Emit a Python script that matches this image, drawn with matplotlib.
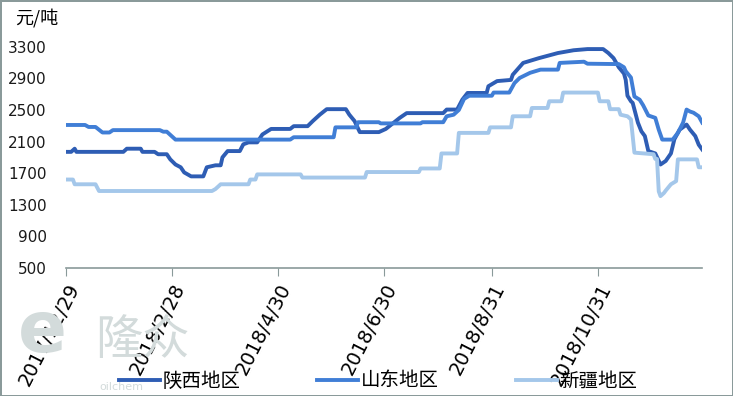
import pandas as pd
import matplotlib.pyplot as plt

plt.rcParams['font.family'] = ['DejaVu Sans', 'Noto Sans CJK SC']

# x values: days after 2017/12/29, y values: 元/吨
start = pd.Timestamp('2017-12-29')

sx_day = [0, 3, 5, 6, 33, 35, 43, 44, 51, 53, 58, 60, 63, 66, 68, 72, 79, 81, 86, 89,
          90, 93, 100, 102, 105, 110, 113, 118, 129, 131, 139, 142, 146, 150, 161, 163,
          166, 169, 180, 184, 188, 192, 196, 217, 219, 225, 228, 231, 242, 243, 248, 256,
          257, 263, 272, 283, 292, 300, 309, 312, 315, 318, 321, 322, 323, 325, 326, 329,
          331, 333, 335, 339, 342, 345, 348, 350, 353, 357, 359, 362, 364, 366]
sx_val = [1970, 1970, 2010, 1970, 1970, 2010, 2010, 1970, 1970, 1940, 1940, 1875, 1810, 1775,
          1710, 1660, 1660, 1775, 1800, 1800, 1900, 1980, 1980, 2065, 2090, 2090, 2190, 2260,
          2260, 2295, 2295, 2360, 2440, 2510, 2510, 2440, 2360, 2220, 2220, 2260, 2330, 2400,
          2460, 2460, 2505, 2505, 2630, 2715, 2715, 2800, 2865, 2880, 2945, 3095, 3155, 3220,
          3255, 3270, 3270, 3220, 3155, 3040, 2960, 2880, 2680, 2610, 2590, 2340, 2230, 2170,
          1980, 1950, 1810, 1855, 1950, 2130, 2250, 2315, 2250, 2170, 2060, 2000]

sd_day = [0, 11, 13, 17, 21, 25, 27, 54, 56, 58, 63, 129, 131, 154, 155, 167, 168, 180,
          181, 204, 205, 217, 219, 223, 226, 229, 232, 245, 246, 255, 258, 261, 267, 273,
          283, 284, 298, 300, 318, 321, 322, 325, 327, 330, 332, 335, 339, 341, 343, 349,
          352, 355, 357, 359, 361, 364, 366]
sd_val = [2310, 2310, 2285, 2285, 2215, 2215, 2245, 2245, 2225, 2225, 2125, 2125, 2155, 2155,
          2280, 2280, 2345, 2345, 2330, 2330, 2345, 2345, 2420, 2440, 2500, 2640, 2680, 2680,
          2720, 2720, 2840, 2905, 2970, 3010, 3010, 3095, 3110, 3085, 3080, 3040, 2990, 2910,
          2670, 2630, 2560, 2430, 2400, 2250, 2125, 2125, 2210, 2340, 2505, 2480, 2465, 2420,
          2340]

xj_day = [0, 4, 5, 17, 19, 84, 86, 89, 105, 106, 109, 110, 135, 136, 172, 173, 203, 204,
          215, 216, 225, 226, 243, 244, 256, 257, 267, 268, 277, 278, 285, 286, 306, 307,
          312, 313, 318, 319, 323, 325, 327, 338, 339, 340, 341, 342, 344, 345, 348, 351,
          352, 363, 364, 366]
xj_val = [1620, 1620, 1560, 1560, 1475, 1475, 1500, 1560, 1560, 1620, 1620, 1685, 1685, 1645,
          1645, 1715, 1715, 1760, 1760, 1950, 1950, 2210, 2210, 2280, 2280, 2420, 2420, 2525,
          2525, 2610, 2610, 2720, 2720, 2610, 2610, 2510, 2510, 2440, 2420, 2380, 1960, 1940,
          1880, 1880, 1470, 1410, 1450, 1480, 1560, 1600, 1875, 1875, 1775, 1775]

series_names = ['陕西地区', '山东地区', '新疆地区']
series_colors = ['#2E5DB4', '#407ED6', '#A4C7EA']

tick_dates = ['2017-12-29', '2018-02-28', '2018-04-30', '2018-06-30', '2018-08-31', '2018-10-31']
tick_labels = ['2017/12/29', '2018/2/28', '2018/4/30', '2018/6/30', '2018/8/31', '2018/10/31']
y_ticks = [500, 900, 1300, 1700, 2100, 2500, 2900, 3300]

fig = plt.figure(figsize=(7.33, 3.96), dpi=100, edgecolor='#8a9a9a', linewidth=2)
ax = fig.add_axes([0.090, 0.323, 0.868, 0.599])

all_days = [sx_day, sd_day, xj_day]
all_vals = [sx_val, sd_val, xj_val]
for d, v, name, c in zip(all_days, all_vals, series_names, series_colors):
    dates = start + pd.to_timedelta(d, unit='D')
    ax.plot(dates, v, color=c, lw=2.8, label=name, solid_joinstyle='round')

ax.set_xlim(start, start + pd.Timedelta(days=366))
ax.set_ylim(500, 3500)
ax.set_yticks(y_ticks)
ax.set_xticks(pd.to_datetime(tick_dates))
ax.set_xticklabels(tick_labels, rotation=63, ha='right', rotation_mode='anchor', fontsize=14)
ax.tick_params(axis='y', length=0, pad=14, labelsize=11, labelcolor='#1a1a1a')
ax.tick_params(axis='x', length=6, color='#8a9a9a', direction='out', pad=3)

for s in ['left', 'right', 'top']:
    ax.spines[s].set_visible(False)
ax.spines['bottom'].set_color('#8a9a9a')
ax.spines['bottom'].set_linewidth(1.2)

fig.text(0.020, 0.955, '元/吨', fontsize=13, family=['Noto Sans CJK SC'], va='center')

# watermark
fig.text(0.025, 0.110, 'e', fontsize=52, fontweight='bold', color='#d3dbdb', zorder=0)
fig.text(0.130, 0.105, '隆众', fontsize=34, family=['Noto Sans CJK SC'], color='#d3dbdb', zorder=0)
fig.text(0.135, 0.015, 'oilchem', fontsize=8, color='#d3dbdb', zorder=0)

leg = fig.legend(loc='center', bbox_to_anchor=(0.516, 0.038), ncol=3, frameon=False,
                 prop={'family': 'Noto Sans CJK SC', 'size': 14},
                 handlelength=2.1, handletextpad=0.15, columnspacing=3.95)

fig.savefig('out.png', dpi=100)
